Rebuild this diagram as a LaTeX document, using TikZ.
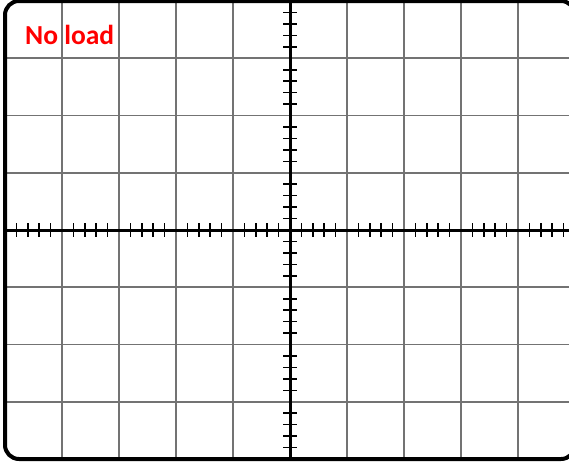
\documentclass[tikz,border=0pt]{standalone}
\usepackage{fontspec}
\setsansfont{Carlito}
\begin{document}
\begin{tikzpicture}[x=1pt,y=-1pt,
  gridline/.style={draw=black!55,line width=1.8pt},
  axisline/.style={draw=black,line width=3pt},
  tickline/.style={draw=black,line width=1.6pt},
  frameline/.style={draw=black,line width=4pt,rounded corners=14pt},
  labeltext/.style={text=red,font=\sffamily\bfseries\fontsize{27.5}{27.5}\selectfont,inner sep=0pt,anchor=base west}]
\useasboundingbox (0,0) rectangle (569,463);
\clip (0,0) rectangle (569,463);
\def\dx{57.0}
\def\dy{57.25}
% grid
\foreach \i in {1,...,9} {
  \draw[gridline] (5+\i*\dx,1) -- (5+\i*\dx,459);
}
\foreach \j in {1,...,7} {
  \draw[gridline] (5,1+\j*\dy) -- (575,1+\j*\dy);
}
% axes
\draw[axisline] (5,230) -- (575,230);
\draw[axisline] (290,1) -- (290,459);
% ticks on horizontal axis
\foreach \k in {1,...,49} {
  \pgfmathtruncatemacro{\m}{mod(\k,5)}
  \ifnum\m=0\relax\else
    \draw[tickline] (5+\k*\dx/5,223) -- (5+\k*\dx/5,237);
  \fi
}
% ticks on vertical axis
\foreach \k in {1,...,39} {
  \pgfmathtruncatemacro{\m}{mod(\k,5)}
  \ifnum\m=0\relax\else
    \draw[tickline] (283,1+\k*\dy/5) -- (297,1+\k*\dy/5);
  \fi
}
% frame
\draw[frameline] (5,1) rectangle (575,459);
\node[labeltext] (lbl) at (25,44.5) {No load};
\end{tikzpicture}
\end{document}
